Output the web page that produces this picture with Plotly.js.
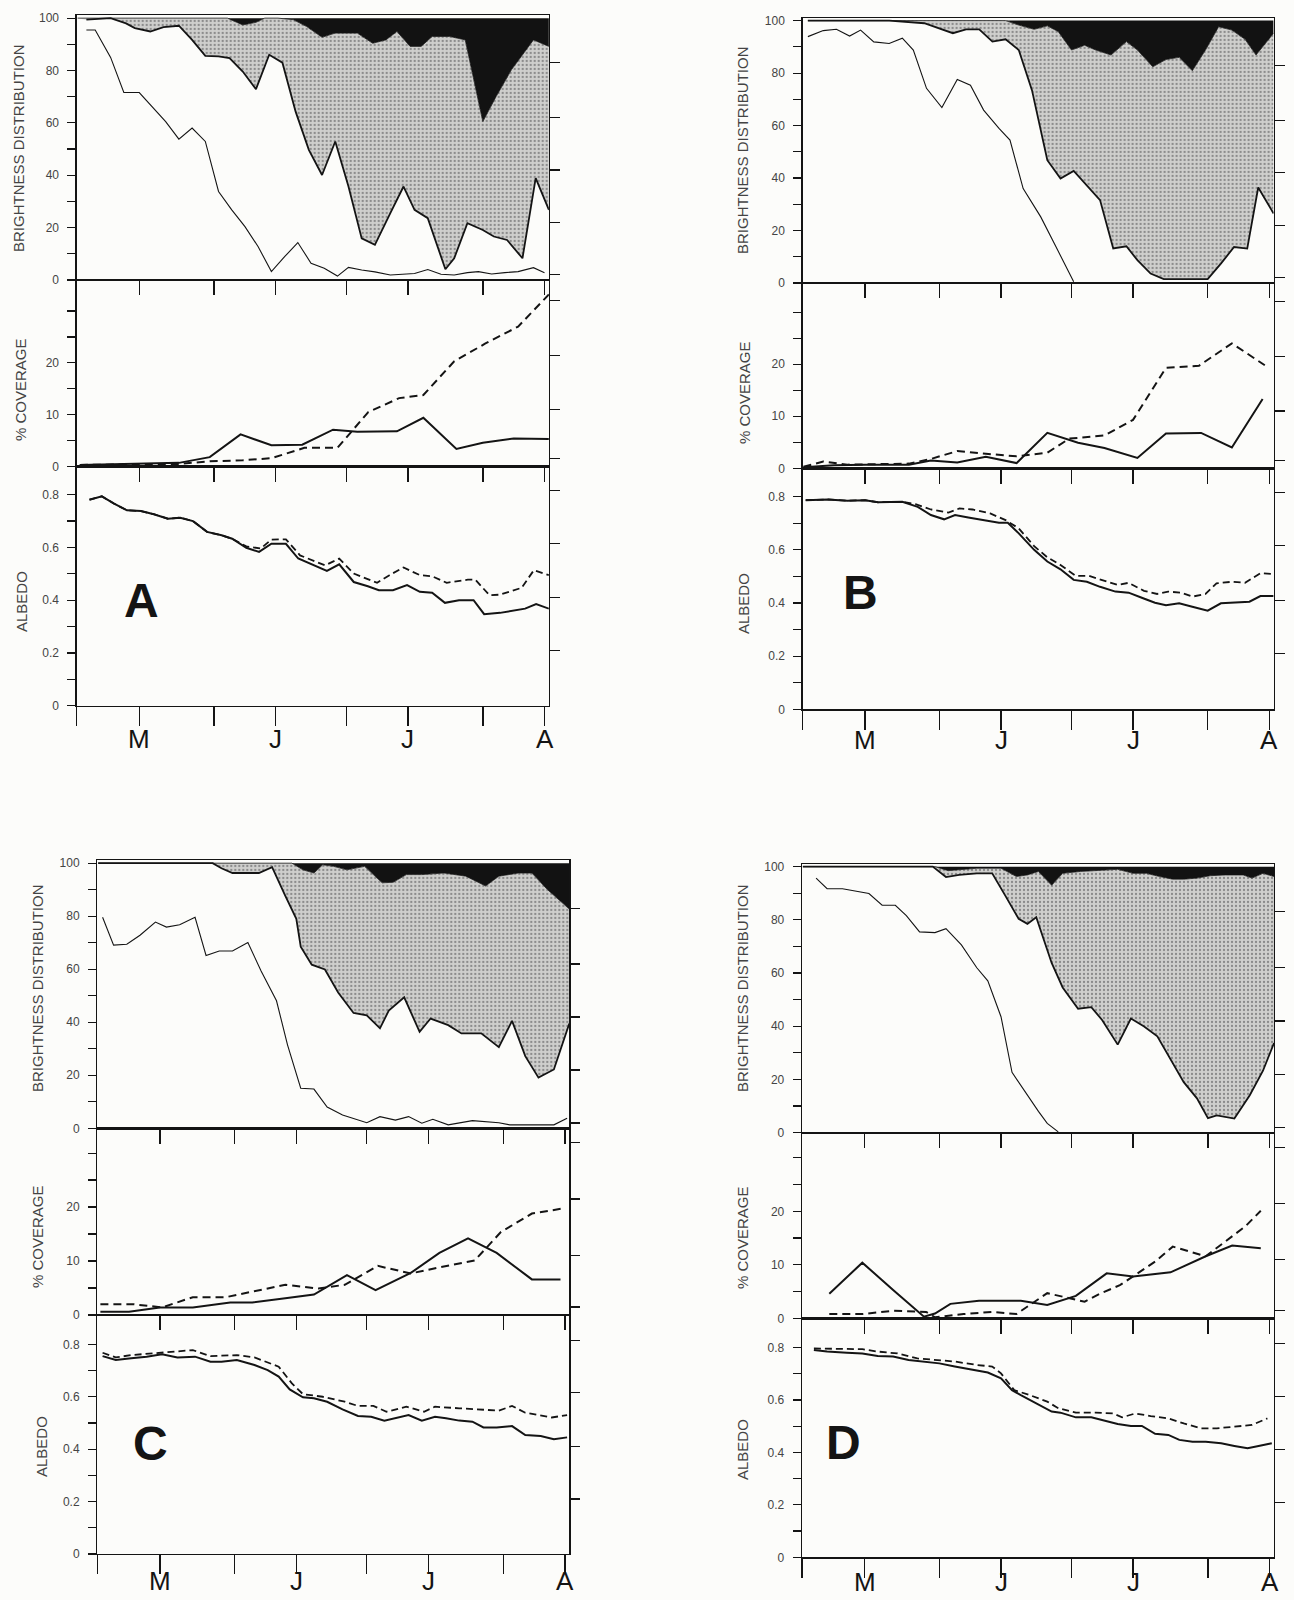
<!DOCTYPE html>
<html><head><meta charset="utf-8">
<script src="https://cdn.plot.ly/plotly-3.0.1.min.js"></script>
<style>html,body{margin:0;padding:0;background:#fcfcfa}</style>
</head><body><div id="chart" style="width:1294px;height:1600px"></div>
<script>
// ---------- x-axis ticks (days after 1 May) ----------
const monthTicks = [-0.2, 14, 31, 45, 61, 75, 92, 106];
const monthText = ['', 'M', '', 'J', '', 'J', '', 'A'];
const innerTicks = [14, 31, 45, 61, 75, 92, 106];
const brightTicks = [0,10,20,30,40,50,60,70,80,90,100];
const brightText = ['0','','20','','40','','60','','80','','100'];
const covTicks = [0,5,10,15,20,25,30];
const covText = ['0','','10','','20','',''];
const albTicks = [0,0.1,0.2,0.3,0.4,0.5,0.6,0.7,0.8];
const albText = ['0','','0.2','','0.4','','0.6','','0.8'];
const rightBrightTicks = [2, 22, 42, 62, 83];
const rightCovTicks = [1.5, 11, 21.5, 32];
const rightAlbTicks = [0.21, 0.41, 0.615, 0.815];

// ---------- Panel A ----------
const aB1x = [2,4,7.5,10.5,14,17,20,23,26,29,32,35,38,41,44,47,50,53,56,59,61.5,64.5,67.5,71,74,76.5,79.5,82.5,85.5,88.5,91,94,97,100,103.5,106];
const aB1y = [95.5,95.5,85,71.6,71.6,66,60.5,53.8,58,52.9,33.8,26.8,20.4,12.7,3.2,8.9,14.3,6.4,4.5,1.5,4.8,3.8,3.1,1.9,2.3,2.5,4,2.2,1.9,2.8,3.2,2.3,2.8,3.2,4.7,2.8];
const aB2x = [2,7.5,11,13,16.5,19.5,23,26,29,32,34.5,37.5,40.5,43.5,46.5,49.5,52.5,55.5,58.5,61.5,64.5,67.5,71,74,76.5,79.5,83.5,85.5,88.5,92,94.5,97.5,101,104,107];
const aB2y = [99.4,100,98,96.2,94.9,96.6,97.1,91.7,85.6,85.4,84.7,79.6,72.9,86,83,64.3,49.7,40.1,52.9,35.7,15.9,13.4,25.5,35.7,26.8,23.6,4.1,8.3,21.7,19.1,16.6,15.3,8.3,38.9,26.8];
const aB3x = [0,34,37.5,40.5,42.5,45.5,49,52,55.5,58.5,63.5,67,70,72.5,75.5,78,80.5,84.5,88,92,95,98.5,103.5,107];
const aB3y = [100,100,97.4,98.4,100,100,99.4,96.8,92.7,94.3,94.3,90.4,91.7,94.9,89.2,89.2,93,93,91.7,60.5,70,80.3,91.7,89.2];
const aCsx = [0.5,23,30,37,44,51,58,63.5,72.5,78.5,86,92,99,107];
const aCsy = [0.3,0.7,1.8,6.2,4.1,4.2,7.1,6.7,6.8,9.4,3.4,4.6,5.4,5.3];
const aCdx = [0.5,23,30,37.5,44,51.5,59,66,73,78.5,85.5,92.5,100,107];
const aCdy = [0.3,0.5,1.0,1.2,1.6,3.6,3.6,10.5,13.2,13.8,20.3,23.7,27,33.2];
const aAsx = [2.7,5.5,8.3,11.2,14.4,17.3,20.5,23.3,26.2,29.4,32.7,35.1,38.3,41.2,44,47.3,50.1,53,56.6,59.4,62.7,65.9,68.4,71.6,74.8,77.7,80.5,83.4,86.6,89.9,92.3,95.9,99.2,101.6,104.1,107];
const aAsy = [0.781,0.794,0.766,0.741,0.738,0.726,0.709,0.713,0.70,0.659,0.646,0.633,0.599,0.583,0.614,0.614,0.558,0.536,0.511,0.536,0.469,0.453,0.438,0.438,0.457,0.432,0.428,0.39,0.40,0.40,0.347,0.352,0.362,0.368,0.385,0.368];
const aAdx = [2.7,5.5,8.3,11.2,14.4,17.3,20.5,23.3,26.2,29.4,32.7,35.1,38.3,41.6,44,47.3,50.5,53.4,56.2,59.4,62.7,68,70.8,74,77.7,80.5,83.8,88.6,90.3,93.5,95.9,100.8,103.6,107];
const aAdy = [0.781,0.794,0.766,0.741,0.738,0.726,0.709,0.713,0.70,0.659,0.646,0.633,0.604,0.596,0.63,0.631,0.57,0.551,0.532,0.558,0.501,0.466,0.495,0.524,0.495,0.491,0.466,0.478,0.478,0.419,0.421,0.447,0.514,0.495];

// ---------- Panel B ----------
const bB1x = [1,4.5,7.5,10.5,13,16,19.5,22.5,25,28,31.5,35,38,41,44.5,47,50,54,57.5,61.5];
const bB1y = [93.9,96.2,96.7,94.1,96.4,91.9,91.3,93.3,88.8,74.2,66.9,77.6,75.4,65.9,58.9,54.5,36,25.2,13.7,0.5];
const bB2x = [1,19.5,27.5,34,37,40,43,46,49,52,55.5,58.5,61.5,64.5,67.5,70.5,73.5,76,79,82,85,92,95,98,101,103.5,107];
const bB2y = [100,100,99,95.2,96.7,96.7,92,92.9,88.8,73.5,46.8,39.8,42.7,37.3,31.6,13.2,14,8.7,3.6,1.5,1.5,1.5,7.4,13.7,13.1,36.4,26.5];
const bB3x = [1,46,49,52.5,55.5,58,61,64,66.5,70,73.5,76,79.5,82.5,85.5,88.5,91.5,94.5,97.5,100.5,103,107];
const bB3y = [100,100,98.3,96.7,98,95.8,88.8,90.6,88.8,86.9,92,88.8,82.4,85.2,86,80.9,88.8,97.7,96.4,92.9,86.9,95.2];
const bCsx = [0,7,14,24,29,35,41.5,48.5,55.5,62.5,68.5,76,82.5,90.5,97.5,104.5];
const bCsy = [0.2,0.6,0.7,0.7,1.5,1.1,2.2,1.0,6.8,4.9,3.9,2.0,6.7,6.8,4.0,13.3];
const bCdx = [0,4.5,10,24,29,35,41.5,48.5,55.5,60.5,68.5,75,82.5,90,97.5,105];
const bCdy = [0.3,1.3,0.7,0.9,1.8,3.3,2.8,2.3,3.0,5.7,6.3,9.3,19.3,19.7,24,19.8];
const bAsx = [0.5,5.5,10,14,17,22.5,26,29,32,34.5,37.5,41.5,44.5,46.5,49,52.5,55.5,58.5,61.5,64.5,67.5,71,74,77,80,82.5,85.5,88.5,92,95,98.5,101.5,104,107];
const bAsy = [0.787,0.79,0.785,0.787,0.779,0.781,0.762,0.731,0.715,0.731,0.722,0.71,0.702,0.702,0.662,0.60,0.556,0.527,0.487,0.48,0.461,0.443,0.439,0.42,0.401,0.392,0.399,0.386,0.371,0.399,0.401,0.405,0.426,0.426];
const bAdx = [0.5,5.5,10,14,17,22.5,25.5,29,33,35.5,38.5,42.5,46,49,52.5,55.5,58.5,62,65,68,71.5,74,77.5,80.5,83,86,88.5,91.5,94,97.5,100.5,104,107];
const bAdy = [0.787,0.79,0.785,0.787,0.779,0.781,0.772,0.752,0.74,0.756,0.752,0.737,0.712,0.681,0.614,0.572,0.543,0.502,0.502,0.487,0.468,0.476,0.446,0.434,0.443,0.439,0.424,0.434,0.474,0.48,0.476,0.512,0.509];

// ---------- Panel C ----------
const cB1x = [1,3.5,6.5,9.5,13,15.5,18.5,22,24.5,27.5,30.5,34,37,40.5,43,46,49,52,55.5,58.5,61,64,67.5,70.5,73.5,76,79.5,85,91,93.5,103.5,106.5];
const cB1y = [79.6,69.1,69.4,72.8,77.8,75.9,76.8,79.6,65.2,66.9,66.9,70.1,59.3,48.1,31.5,15.1,14.8,8.0,5.0,3.5,2.1,4.4,3.1,4.4,1.9,3.4,1.3,2.9,2.1,1.3,1.3,3.8];
const cB2x = [0,26,28,30.5,36.5,39.5,42.5,45,46,48.5,51.5,54.5,58,61,64,66,69.5,73,75.5,79.5,82.5,87,91,94,97,100,103.5,107];
const cB2y = [100,100,98.1,96.3,96.3,98.5,87.7,79,68.5,61.7,59.9,51.2,43.5,42.6,37.7,44.4,49.4,36.4,41.4,38.9,35.8,35.8,30.6,40.5,27.2,19.1,22.2,39.5];
const cB3x = [0,44,46.5,49,51,53.5,56.5,60.5,64.5,67,70,73.5,78.5,83.5,88,91,95.5,98.5,102,107];
const cB3y = [100,100,97.5,96.3,99.4,98.8,97.5,98.8,92.6,92.8,95.7,95.7,96.3,95.1,91.4,95.1,96.3,96.3,90.1,82.7];
const cCsx = [0.5,7,14,21.5,30,35,42.5,49,56.5,63,71,77.5,84,90.5,98.5,105];
const cCsy = [0.6,0.6,1.4,1.4,2.3,2.3,3.1,3.8,7.4,4.6,7.8,11.5,14.2,11.5,6.6,6.6];
const cCdx = [0.5,8,14.5,21.5,29,42.5,50,56,63.5,71,78.5,85.5,91.5,98.5,106];
const cCdy = [2.0,2.0,1.4,3.3,3.3,5.6,4.9,5.6,9.1,7.7,9.0,10.1,15.4,18.8,19.8];
const cAsx = [1,4,7.5,11,14.5,18,22,25.5,28,31.5,35.5,38.5,41,43.5,46.5,49,52,55.5,59,62,65,67.5,70.5,73.5,76.5,79,82,85,87.5,90.5,94,97,100.5,103.5,106.5];
const cAsy = [0.755,0.74,0.747,0.753,0.762,0.75,0.753,0.734,0.734,0.74,0.721,0.702,0.677,0.628,0.598,0.594,0.581,0.552,0.527,0.524,0.509,0.518,0.53,0.509,0.524,0.518,0.509,0.505,0.483,0.483,0.488,0.454,0.45,0.438,0.445];
const cAdx = [1,4,7.5,14.5,21.5,25.5,31.5,35.5,41,44,46.5,51,56,59,62.5,65.5,70,74,76.5,82,88,91,94,97,103,106.5];
const cAdy = [0.768,0.75,0.759,0.768,0.778,0.755,0.759,0.75,0.715,0.651,0.61,0.60,0.581,0.565,0.565,0.543,0.562,0.543,0.562,0.556,0.549,0.547,0.565,0.539,0.521,0.53];

// ---------- Panel D ----------
const dB1x = [3,5.5,9,12.5,15,18,21,23.5,26.5,30,32.5,36,39.5,42,45,47.5,50.5,53.5,55.5,58];
const dB1y = [95.7,91.7,91.7,90.8,89.9,85.5,85.5,81.6,75.5,75.2,76.7,70.6,62,57.1,43.6,22.7,15.3,8,3.5,0.3];
const dB2x = [0,29.5,32.5,35.5,39.5,43,46,49,51,53,56.5,59,62.5,65.5,68,71.5,74.5,77.5,80.5,84,86.5,89.5,92,94,98,101.5,104.5,107];
const dB2y = [100,100,96.1,96.9,97.5,97.5,89,80.4,78.5,81,63.8,54.6,46.6,47.2,42.3,33.1,42.9,39.9,36.2,26.4,19,12.9,5.5,6.5,5.3,14.1,23.3,33.7];
const dB3x = [0,30,33,39.5,45,48.5,51,53.5,56.5,59,63,67.5,71.5,75,78,81,84,86.5,89.5,92.5,96,100,102,104.5,107];
const dB3y = [100,100,98.5,99.4,99.4,96.3,96.9,98.2,93,97.5,98.2,98.5,99,97.5,97.5,96.3,95.3,95.3,95.7,96.6,96.9,96.9,95.7,97.5,96.3];
const dCsx = [6,13.5,20.5,27.5,30,33.5,40,49.5,55.5,62,69,75,83.5,91.5,97.5,104];
const dCsy = [4.6,10.4,5.3,0.3,0.9,2.7,3.3,3.3,2.5,4.2,8.4,7.8,8.6,11.6,13.6,13.1];
const dCdx = [6,13.5,20.5,28,30,36.5,43,48.5,55.5,60,64,67.5,72,76,80,84,87.5,91.5,96,100.5,104];
const dCdy = [0.8,0.8,1.4,1.2,0.2,0.8,1.2,0.8,4.7,3.8,3.1,4.6,6.2,8.4,10.6,13.4,12.5,11.6,14.4,17.2,20.1];
const dAsx = [2.5,5.5,10,13.5,17,20.5,24,27,31,34.5,38.5,42,45,47.5,49.5,53,56.5,58.5,62,65.5,68.5,71.5,74.5,77,80,83,85.5,88.5,91.5,95,98,101,103.5,106.5];
const dAsy = [0.791,0.785,0.781,0.778,0.768,0.766,0.753,0.747,0.74,0.728,0.717,0.705,0.683,0.638,0.619,0.588,0.556,0.552,0.534,0.534,0.521,0.509,0.501,0.501,0.471,0.467,0.448,0.441,0.441,0.435,0.425,0.416,0.425,0.435];
const dAdx = [2.5,13.5,17,21.5,26,30,34.5,39.5,43,45,48,51.5,55.5,58,62,66.5,70.5,72.5,75.5,79,83,86.5,90.5,94,98,102,105.5];
const dAdy = [0.797,0.794,0.785,0.778,0.759,0.753,0.747,0.734,0.728,0.702,0.638,0.619,0.594,0.569,0.552,0.552,0.549,0.534,0.549,0.539,0.53,0.511,0.492,0.492,0.499,0.505,0.53];

const panelData = [
  {name:'A', b1:[aB1x,aB1y], b2:[aB2x,aB2y], b3:[aB3x,aB3y], cs:[aCsx,aCsy], cd:[aCdx,aCdy], as:[aAsx,aAsy], ad:[aAdx,aAdy]},
  {name:'B', b1:[bB1x,bB1y], b2:[bB2x,bB2y], b3:[bB3x,bB3y], cs:[bCsx,bCsy], cd:[bCdx,bCdy], as:[bAsx,bAsy], ad:[bAdx,bAdy]},
  {name:'C', b1:[cB1x,cB1y], b2:[cB2x,cB2y], b3:[cB3x,cB3y], cs:[cCsx,cCsy], cd:[cCdx,cCdy], as:[cAsx,cAsy], ad:[cAdx,cAdy]},
  {name:'D', b1:[dB1x,dB1y], b2:[dB2x,dB2y], b3:[dB3x,dB3y], cs:[dCsx,dCsy], cd:[dCdx,dCdy], as:[dAsx,dAsy], ad:[dAdx,dAdy]}
];

// ---------- layout geometry (pixels) ----------
const W = 1294, H = 1600;
const geom = [
  {x:[76.7,548.9], br:[15,280], cov:[280,466.5], alb:[466.5,705.7], brTop:101.2, covTop:36, albTop:0.907, letter:[14.6,0.40], tBr:[18,148], tCov:[20,390], tAlb:[21,602], mOff:33},
  {x:[802.6,1273.6], br:[18,283], cov:[283,468.3], alb:[468.3,709.3], brTop:101.0, covTop:35.6, albTop:0.907, letter:[12.9,0.438], tBr:[742,150], tCov:[744,393], tAlb:[744,604], mOff:31},
  {x:[97.3,569.3], br:[860,1128.3], cov:[1128.3,1315], alb:[1315,1554], brTop:101.2, covTop:34.6, albTop:0.912, letter:[11.8,0.423], tBr:[37,988], tCov:[37,1237], tAlb:[41,1447], mOff:27},
  {x:[802,1274], br:[864,1132.7], cov:[1132.7,1318.3], alb:[1318.3,1557.3], brTop:101.0, covTop:34.7, albTop:0.912, letter:[9.3,0.438], tBr:[742,988], tCov:[742,1238], tAlb:[742,1450], mOff:25}
];

const INK = '#141414';
const FONT = 'Liberation Sans, Arial, Helvetica, sans-serif';
const traces = [];
const layout = {
  width: W, height: H, margin:{l:0,r:0,t:0,b:0},
  paper_bgcolor:'#fcfcfa', plot_bgcolor:'#fcfcfa',
  showlegend:false, annotations:[], font:{family:FONT}
};

function xDom(g){ return [g.x[0]/W, g.x[1]/W]; }
function yDom(r){ return [1 - r[1]/H, 1 - r[0]/H]; }

panelData.forEach((p, k) => {
  const g = geom[k];
  const nB = 3*k+1, nC = 3*k+2, nA = 3*k+3;
  const ax = n => ({xaxis:'x'+n, yaxis:'y'+n});
  // brightness distribution: top (100%), black, grey, thin line
  traces.push(Object.assign({x:p.b3[0], y:p.b3[0].map(()=>100), mode:'lines', line:{width:0, color:INK}, hoverinfo:'skip'}, ax(nB)));
  traces.push(Object.assign({x:p.b3[0], y:p.b3[1], mode:'lines', fill:'tonexty', fillcolor:'#121212', line:{width:0.8, color:INK}}, ax(nB)));
  traces.push(Object.assign({x:p.b2[0], y:p.b2[1], mode:'lines', fill:'tonexty', fillcolor:'#cbcbcb',
    fillpattern:{shape:'.', bgcolor:'#cfcfcd', fgcolor:'#8a8a8a', size:4, solidity:0.25},
    line:{width:1.8, color:INK}}, ax(nB)));
  traces.push(Object.assign({x:p.b1[0], y:p.b1[1], mode:'lines', line:{width:1.1, color:INK}}, ax(nB)));
  // coverage
  traces.push(Object.assign({x:p.cs[0], y:p.cs[1], mode:'lines', line:{width:2, color:INK}}, ax(nC)));
  traces.push(Object.assign({x:p.cd[0], y:p.cd[1], mode:'lines', line:{width:2, color:INK, dash:'8px,5px'}}, ax(nC)));
  // albedo
  traces.push(Object.assign({x:p.ad[0], y:p.ad[1], mode:'lines', line:{width:1.8, color:INK, dash:'7px,4px'}}, ax(nA)));
  traces.push(Object.assign({x:p.as[0], y:p.as[1], mode:'lines', line:{width:2, color:INK}}, ax(nA)));

  const rows = [
    {n:nB, dom:g.br, range:[0,g.brTop], tv:brightTicks, tt:brightText, rt:rightBrightTicks},
    {n:nC, dom:g.cov, range:[0,g.covTop], tv:covTicks, tt:covText, rt:rightCovTicks},
    {n:nA, dom:g.alb, range:[0,g.albTop], tv:albTicks, tt:albText, rt:rightAlbTicks}
  ];
  rows.forEach((r, i) => {
    const isBottom = (i === 2);
    layout['xaxis'+r.n] = {
      domain:xDom(g), range:[-0.2,107], anchor:'y'+r.n,
      showline:true, linecolor:INK, linewidth:1.2, mirror:true,
      ticks:'outside', ticklen: isBottom ? 19 : 14, tickwidth:1.4, tickcolor:INK,
      tickmode:'array', tickvals: isBottom ? monthTicks : innerTicks,
      showticklabels:false,
      showgrid:false, zeroline:false, fixedrange:true
    };
    layout['yaxis'+r.n] = {
      domain:yDom(r.dom), range:r.range, anchor:'x'+r.n,
      showline:true, linecolor:INK, linewidth:1.3, mirror:true,
      ticks:'outside', ticklen:8, tickwidth:1.2, tickcolor:INK,
      tickmode:'array', tickvals:r.tv, ticktext:r.tt,
      tickfont:{size:12, color:'#444', family:FONT}, ticklabelstandoff:6,
      showgrid:false, zeroline:false, fixedrange:true
    };
    layout['yaxis'+(r.n+12)] = {
      overlaying:'y'+r.n, side:'right', anchor:'x'+r.n, range:r.range,
      tickmode:'array', tickvals:r.rt, ticks:'outside', ticklen:10, tickwidth:1.2, tickcolor:INK,
      showticklabels:false, showline:false, showgrid:false, zeroline:false, fixedrange:true
    };
    traces.push({x:[], y:[], xaxis:'x'+r.n, yaxis:'y'+(r.n+12), mode:'lines', hoverinfo:'skip'});
  });

  // month labels below the albedo axis
  monthTicks.forEach((d, j) => {
    if (!monthText[j]) return;
    layout.annotations.push({
      text:monthText[j], xref:'x'+nA, yref:'paper', x:d, y:1 - (g.alb[1] + g.mOff)/H,
      xanchor:'center', yanchor:'middle', showarrow:false, borderpad:0,
      font:{size:26, color:INK, family:FONT}
    });
  });

  const titles = [['BRIGHTNESS DISTRIBUTION', g.tBr], ['% COVERAGE', g.tCov], ['ALBEDO', g.tAlb]];
  titles.forEach(t => layout.annotations.push({
    text:t[0], xref:'paper', yref:'paper', x:t[1][0]/W, y:1 - t[1][1]/H,
    xanchor:'center', yanchor:'middle', textangle:-90, showarrow:false,
    font:{size:15, color:'#444', family:FONT}
  }));
  layout.annotations.push({
    text:'<b>'+p.name+'</b>', xref:'x'+nA, yref:'y'+nA, x:g.letter[0], y:g.letter[1],
    xanchor:'center', yanchor:'middle', showarrow:false,
    font:{size:48, color:INK, family:FONT}
  });
});

Plotly.newPlot('chart', traces, layout, {displayModeBar:false, staticPlot:true});
</script>
</body></html>
